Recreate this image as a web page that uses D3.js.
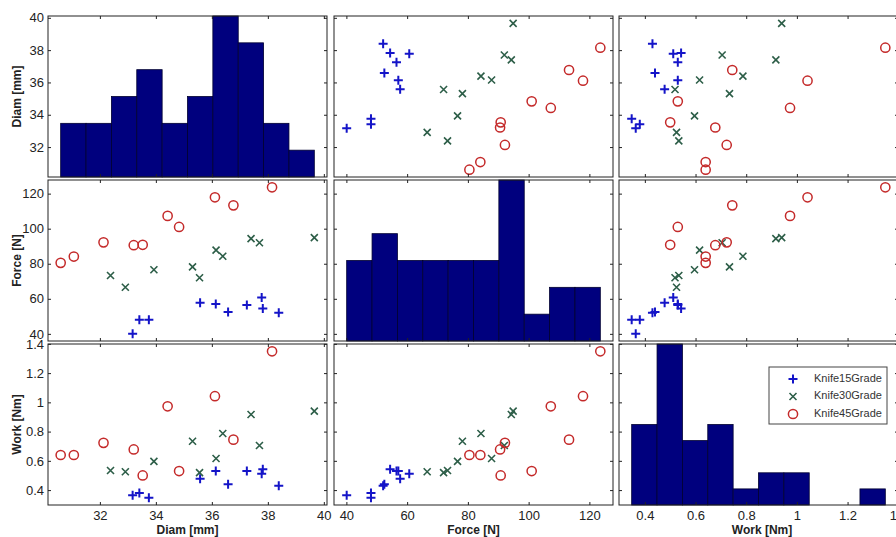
<!DOCTYPE html>
<html>
<head>
  <title>Knife scatter matrix</title>
  <script src="https://d3js.org/d3.v7.min.js"></script>
  <style>
    body { margin: 0; background: #fff; }
    svg text { font-family: "Liberation Sans", Arial, sans-serif; }
  </style>
</head>
<body>
  <svg width="896" height="537"></svg>
  <script>
    // data, 10 knives per group
    var groups = ["Knife15Grade", "Knife30Grade", "Knife45Grade"];
    var varNames = ["Diam [mm]", "Force [N]", "Work [Nm]"];

    var diam15 = [33.17, 33.41, 33.75, 35.58, 36.14, 36.58, 37.25, 37.78, 37.82, 38.39];
    var force15 = [40.1, 48.1, 48.1, 57.7, 57.1, 52.5, 56.5, 60.7, 54.4, 52.1];
    var work15 = [0.364, 0.38, 0.348, 0.478, 0.53, 0.44, 0.53, 0.512, 0.543, 0.43];

    var diam30 = [32.38, 32.91, 33.93, 35.31, 35.56, 36.15, 36.39, 37.40, 37.70, 39.66];
    var force30 = [73.3, 66.6, 76.6, 78.2, 72.0, 87.8, 84.3, 94.3, 92.0, 94.9];
    var work30 = [0.534, 0.525, 0.596, 0.734, 0.519, 0.616, 0.787, 0.917, 0.705, 0.94];

    var diam45 = [30.60, 31.07, 32.13, 33.21, 33.53, 34.42, 34.83, 36.11, 36.77, 38.15];
    var force45 = [80.5, 84.1, 92.2, 90.6, 90.8, 107.3, 101.0, 117.9, 113.3, 123.6];
    var work45 = [0.64, 0.64, 0.723, 0.678, 0.50, 0.973, 0.53, 1.042, 0.745, 1.349];

    var diamTicks = [32, 34, 36, 38, 40];
    var forceTicks = [40, 60, 80, 100, 120];
    var workTicks = [0.4, 0.6, 0.8, 1, 1.2, 1.4];

    var colors = ["#1414c8", "#2d5e48", "#c42a2a"];
    var nBins = 10;

    (function() {
      var byGroup = [
        [diam15, force15, work15],
        [diam30, force30, work30],
        [diam45, force45, work45]
      ];
      var ticks = [diamTicks, forceTicks, workTicks];

      var svg = d3.select("svg");
      var colLeft = [48, 334, 619], panelW = 279;
      var rowTop = [16, 180, 344], panelH = 161;

      // all values of each variable, domain padded 5% like gplotmatrix
      var allVals = [0, 1, 2].map(function(k) {
        return d3.merge(byGroup.map(function(g) { return g[k]; }));
      });
      var domains = allVals.map(function(v) {
        var ext = d3.extent(v), pad = (ext[1] - ext[0]) * 0.05;
        return [ext[0] - pad, ext[1] + pad];
      });

      var xs = domains.map(function(dom, j) {
        return d3.scaleLinear().domain(dom).range([colLeft[j], colLeft[j] + panelW]);
      });
      var ys = domains.map(function(dom, i) {
        return d3.scaleLinear().domain(dom).range([rowTop[i] + panelH, rowTop[i]]);
      });

      function fmt(d) { return String(d); }

      function drawMarker(sel, gi, x, y) {
        if (gi == 0) {
          sel.append("path").attr("d", "M" + (x - 4.5) + "," + y + "H" + (x + 4.5) + "M" + x + "," + (y - 4.5) + "V" + (y + 4.5))
            .attr("stroke", colors[0]).attr("stroke-width", 2).attr("fill", "none");
        } else if (gi == 1) {
          sel.append("path").attr("d", "M" + (x - 3.5) + "," + (y - 3.5) + "L" + (x + 3.5) + "," + (y + 3.5) +
              "M" + (x - 3.5) + "," + (y + 3.5) + "L" + (x + 3.5) + "," + (y - 3.5))
            .attr("stroke", colors[1]).attr("stroke-width", 1.6).attr("fill", "none");
        } else {
          sel.append("circle").attr("cx", x).attr("cy", y).attr("r", 4.6)
            .attr("stroke", colors[2]).attr("stroke-width", 1.5).attr("fill", "none");
        }
      }

      for (var i = 0; i < 3; i++) {
        for (var j = 0; j < 3; j++) {
          var g = svg.append("g");
          var x = xs[j], y = ys[i];
          var pTop = rowTop[i], pBot = rowTop[i] + panelH, pLeft = colLeft[j], pRight = colLeft[j] + panelW;

          if (i == j) {
            // histogram, equal bins between min and max
            var v = allVals[i], ext = d3.extent(v), bw = (ext[1] - ext[0]) / nBins;
            var counts = d3.range(nBins).map(function() { return 0; });
            v.forEach(function(d) {
              counts[Math.min(nBins - 1, Math.floor((d - ext[0]) / bw))]++;
            });
            var hy = d3.scaleLinear().domain([0, d3.max(counts)]).range([pBot, pTop]);
            g.selectAll("rect.bar").data(counts).enter().append("rect")
              .attr("class", "bar")
              .attr("x", function(c, b) { return x(ext[0] + b * bw); })
              .attr("width", x(ext[0] + bw) - x(ext[0]))
              .attr("y", function(c) { return hy(c); })
              .attr("height", function(c) { return hy(0) - hy(c); })
              .attr("fill", "#00007e")
              .attr("stroke", "#000030")
              .attr("stroke-width", 0.8);
          } else {
            byGroup.forEach(function(gr, gi) {
              gr[j].forEach(function(xv, n) {
                drawMarker(g, gi, x(gr[j][n]), y(gr[i][n]));
              });
            });
          }

          // inward ticks on all four sides
          var axes = [
            [d3.axisBottom(x), "translate(0," + pBot + ")", i == 2, ticks[j]],
            [d3.axisTop(x), "translate(0," + pTop + ")", false, ticks[j]],
            [d3.axisLeft(y), "translate(" + pLeft + ",0)", j == 0, ticks[i]],
            [d3.axisRight(y), "translate(" + pRight + ",0)", false, ticks[i]]
          ];
          axes.forEach(function(a, k) {
            var ax = a[0].tickValues(a[3]).tickSizeInner(-3).tickSizeOuter(0)
              .tickPadding(k == 2 ? 4 : 6)
              .tickFormat(a[2] ? fmt : function() { return ""; });
            var ag = svg.append("g").attr("transform", a[1]).call(ax);
            ag.select(".domain").remove();
            ag.selectAll("line").attr("stroke", "#222");
            ag.selectAll("text").attr("font-size", 13).attr("fill", "#222")
              .style("font-family", "'Liberation Sans', Arial, sans-serif");
          });

          svg.append("rect").attr("x", pLeft).attr("y", pTop)
            .attr("width", panelW).attr("height", panelH)
            .attr("fill", "none").attr("stroke", "#222").attr("stroke-width", 1);
        }
      }

      // variable labels
      varNames.forEach(function(name, k) {
        svg.append("text")
          .attr("transform", "translate(18," + (rowTop[k] + panelH / 2) + ") rotate(-90)")
          .attr("text-anchor", "middle").attr("dominant-baseline", "middle")
          .attr("font-size", 12).attr("font-weight", "bold").attr("fill", "#222")
          .text(name);
        svg.append("text")
          .attr("x", colLeft[k] + (k == 2 ? 143 : panelW / 2)).attr("y", 534)
          .attr("text-anchor", "middle")
          .attr("font-size", 12).attr("font-weight", "bold").attr("fill", "#222")
          .text(name);
      });

      // legend
      var lg = svg.append("g");
      lg.append("rect").attr("x", 769).attr("y", 367).attr("width", 118).attr("height", 57)
        .attr("fill", "#fff").attr("stroke", "#444").attr("stroke-width", 1);
      groups.forEach(function(name, gi) {
        var ly = 379 + gi * 17.5;
        drawMarker(lg, gi, 793, ly);
        lg.append("text").attr("x", 814).attr("y", ly).attr("dominant-baseline", "middle")
          .attr("font-size", 11).attr("fill", "#333").text(name);
      });
    })();
  </script>
</body>
</html>
